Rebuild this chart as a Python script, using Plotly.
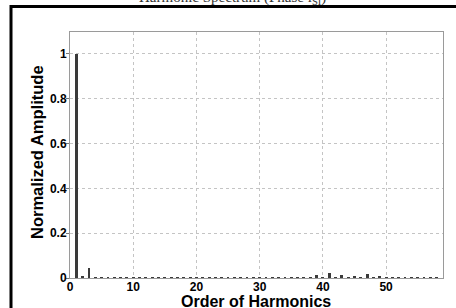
import plotly.graph_objects as go

harmonics = list(range(1, 59))
amplitude = [1.0, 0.008, 0.045, 0.004, 0.004, 0.003, 0.004, 0.003, 0.003, 0.003,
             0.003, 0.003, 0.003, 0.003, 0.003, 0.003, 0.003, 0.003, 0.003, 0.003,
             0.003, 0.003, 0.003, 0.003, 0.003, 0.003, 0.003, 0.003, 0.003, 0.003,
             0.003, 0.003, 0.003, 0.003, 0.003, 0.003, 0.003, 0.004, 0.012, 0.004,
             0.022, 0.004, 0.012, 0.004, 0.010, 0.004, 0.018, 0.004, 0.010, 0.003,
             0.003, 0.003, 0.003, 0.003, 0.003, 0.003, 0.003, 0.003]
x_ticks = [0, 10, 20, 30, 40, 50]
y_ticks = [0, 0.2, 0.4, 0.6, 0.8, 1]
y_tick_labels = ["0", "0.2", "0.4", "0.6", "0.8", "1"]

fig = go.Figure(go.Bar(x=harmonics, y=amplitude, width=0.45,
                       marker=dict(color="#3a3a3a", line=dict(width=0))))

axis_common = dict(showline=True, linecolor="#9a9a9a", linewidth=1, mirror=True,
                   ticklen=3, tickcolor="#777777",
                   showgrid=True, gridcolor="#c4c4c4", griddash="dot", gridwidth=1,
                   zeroline=False, automargin=False,
                   tickfont=dict(family="Liberation Sans", size=12, color="black", weight="bold"))

fig.update_xaxes(range=[0, 59], tickvals=x_ticks, ticks="", ticklabelstandoff=-2, **axis_common)
fig.update_yaxes(range=[0, 1.097], tickvals=y_ticks, ticktext=y_tick_labels,
                 ticks="outside", ticklabelstandoff=-3, **axis_common)

L, R, T, B = 70, 13, 32, 30
W, H = 456, 308
pw, ph = W - L - R, H - T - B

def px_x(px):
    return (px - L) / pw

def px_y(py):
    return (H - B - py) / ph

fig.add_annotation(xref="paper", yref="paper", x=px_x(256), y=px_y(301),
                   text="Order of Harmonics", showarrow=False,
                   xanchor="center", yanchor="middle",
                   font=dict(family="Liberation Sans", size=16, color="black", weight="bold"))
fig.add_annotation(xref="paper", yref="paper", x=px_x(37), y=px_y(152),
                   text="Normalized Amplitude", showarrow=False, textangle=-90,
                   xanchor="center", yanchor="middle",
                   font=dict(family="Liberation Sans", size=16.5, color="black", weight="bold"))

fig.add_shape(type="rect", xref="paper", yref="paper",
              x0=px_x(11), x1=px_x(480), y0=px_y(6.5), y1=px_y(340),
              line=dict(color="black", width=3), fillcolor="rgba(0,0,0,0)", layer="above")

fig.add_annotation(xref="paper", yref="paper", x=px_x(232), y=px_y(-2),
                   text="Harmonic Spectrum (Phase i<sub>SI</sub>)", showarrow=False,
                   xanchor="center", yanchor="middle",
                   font=dict(family="Liberation Serif", size=15, color="#333"))

fig.update_layout(width=W, height=H, margin=dict(l=L, r=R, t=T, b=B, autoexpand=False),
                  paper_bgcolor="white", plot_bgcolor="white", showlegend=False,
                  bargap=0)

fig.write_html("out.html", config={"displayModeBar": False},
               post_script="document.body.style.margin='0';document.body.style.overflow='hidden';")
